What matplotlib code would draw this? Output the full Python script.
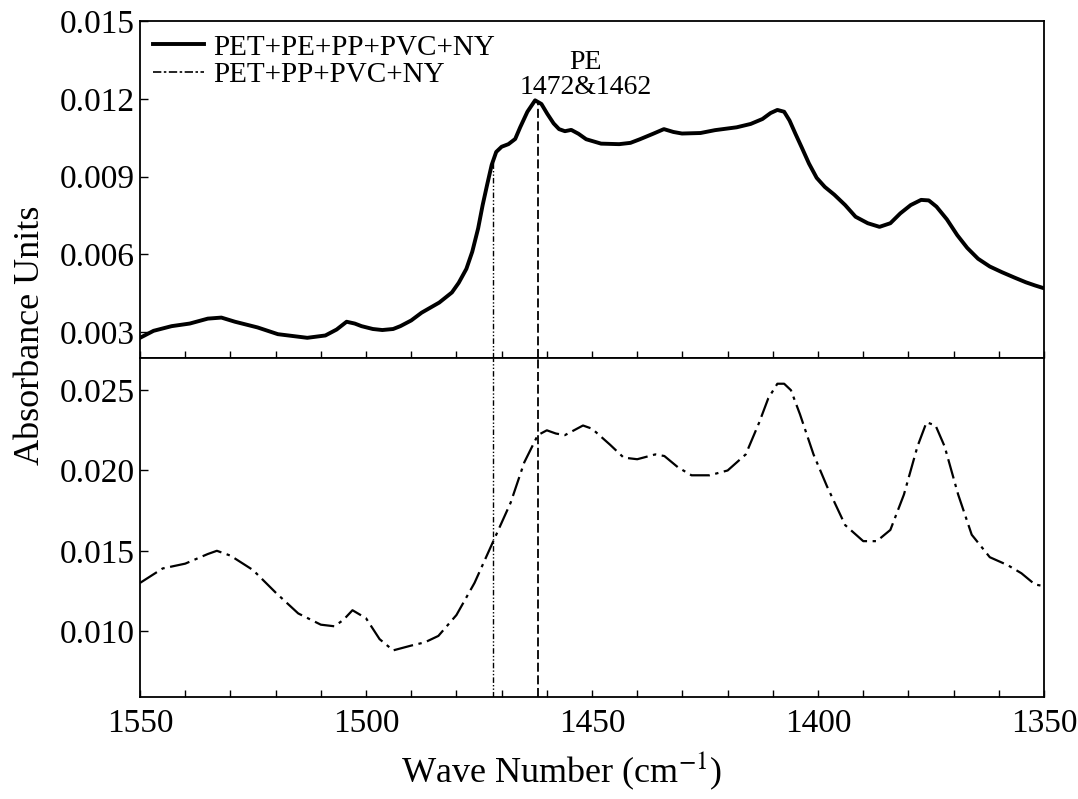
import numpy as np
import matplotlib.pyplot as plt
from matplotlib.ticker import MultipleLocator, FormatStrFormatter

plt.rcParams['font.family'] = ['Liberation Serif', 'DejaVu Serif']
plt.rcParams['mathtext.fontset'] = 'stix'

# top spectrum: PET+PE+PP+PVC+NY
wn_top = [1550, 1547, 1543, 1539, 1535, 1532, 1529, 1524, 1519.5, 1513, 1509, 1506.5,
          1504.3, 1502.5, 1501, 1498.5, 1496.4, 1494, 1492.4, 1490, 1487.7, 1483.8,
          1481, 1479.5, 1477.8, 1476.5, 1475.2, 1474.2, 1473.2, 1472.2, 1471.2, 1470,
          1468.5, 1467, 1465.9, 1464.3, 1462.6, 1461.2, 1459.9, 1458.5, 1457.3, 1456,
          1454.6, 1453, 1451.3, 1448, 1444, 1441.5, 1439.4, 1436.5, 1434.1, 1432,
          1430.1, 1426, 1422.8, 1418, 1414.9, 1412.3, 1410.5, 1409, 1407.5, 1406.3,
          1405, 1403.6, 1402, 1400.3, 1398.5, 1396.4, 1394, 1391.7, 1389, 1386.4,
          1384, 1381.8, 1379.5, 1377.2, 1375.5, 1373.8, 1371.5, 1369.2, 1367, 1364.6,
          1362, 1359.3, 1356.5, 1354, 1352, 1350]
ab_top = [0.00278, 0.00305, 0.00323, 0.00333, 0.00352, 0.00356, 0.00340, 0.00318, 0.00292,
          0.00278, 0.00287, 0.00310, 0.00340, 0.00333, 0.00323, 0.00312, 0.00308, 0.00312,
          0.00323, 0.00345, 0.00375, 0.00414, 0.00453, 0.00490, 0.00544, 0.00610, 0.00700,
          0.00790, 0.00869, 0.00945, 0.00995, 0.01015, 0.01025, 0.01045, 0.01090, 0.01150,
          0.01194, 0.01180, 0.01142, 0.01105, 0.01083, 0.01075, 0.01080, 0.01065, 0.01044,
          0.01027, 0.01025, 0.01030, 0.01044, 0.01065, 0.01083, 0.01072, 0.01066, 0.01068,
          0.01079, 0.01090, 0.01103, 0.01122, 0.01145, 0.01157, 0.01150, 0.01116, 0.01065,
          0.01012, 0.00950, 0.00895, 0.00860, 0.00830, 0.00790, 0.00745, 0.00720, 0.00706,
          0.00720, 0.00758, 0.00790, 0.00810, 0.00808, 0.00784, 0.00735, 0.00674, 0.00625,
          0.00583, 0.00553, 0.00531, 0.00510, 0.00492, 0.00480, 0.00469]

# bottom spectrum: PET+PP+PVC+NY
wn_bot = [1550, 1545, 1540, 1535, 1533, 1530, 1525, 1520, 1515, 1510, 1507, 1505, 1503,
          1500, 1497, 1494, 1490, 1487, 1484, 1480, 1476, 1472, 1468, 1465, 1462,
          1460, 1458, 1456, 1452, 1450, 1446, 1443, 1440, 1436, 1434, 1431, 1428,
          1424, 1420, 1416, 1413, 1411, 1409, 1407.5, 1406, 1404, 1401, 1398, 1394, 1390,
          1387, 1384, 1381, 1378, 1376, 1374, 1372, 1369, 1366, 1362, 1358, 1355,
          1352, 1350]
ab_bot = [0.0130, 0.0139, 0.0142, 0.0148, 0.0150, 0.0147, 0.0138, 0.0124, 0.0111, 0.0104,
          0.0103, 0.0107, 0.0113, 0.0108, 0.0095, 0.0088, 0.0091, 0.0093, 0.0097, 0.0110,
          0.0130, 0.0155, 0.0180, 0.0205, 0.0222, 0.0225, 0.0223, 0.0222, 0.0228, 0.0226,
          0.0216, 0.0208, 0.0207, 0.0210, 0.0209, 0.0202, 0.0197, 0.0197, 0.0200, 0.0210,
          0.0230, 0.0245, 0.0254, 0.0254, 0.0250, 0.0235, 0.0210, 0.0190, 0.0166, 0.0156,
          0.0156, 0.0163, 0.0185, 0.0215, 0.0230, 0.0228, 0.0215, 0.0185, 0.0160, 0.0146,
          0.0141, 0.0136, 0.0129, 0.0128]

pe_bands = [1472, 1462]

fig = plt.figure(figsize=(10.78, 7.99), dpi=100)
ax1 = fig.add_axes([0.1299, 0.5519, 0.8386, 0.4218])
ax2 = fig.add_axes([0.1299, 0.1277, 0.8386, 0.4242])

ax1.plot(wn_top, ab_top, color='black', lw=2.8, label='PET+PE+PP+PVC+NY')
ax2.plot(wn_bot, ab_bot, color='black', lw=1.6, linestyle=(0, (9, 2.5, 1.5, 2.5)))
# legend handle for the second curve
ax1.plot([], [], color='black', lw=1.2, linestyle=(0, (5, 1.5, 1.5, 1.5)), label='PET+PP+PVC+NY')

ax1.set_xlim(1550, 1350)
ax2.set_xlim(1550, 1350)
ax1.set_ylim(0.002, 0.015)
ax2.set_ylim(0.0059, 0.027)

# marker lines for the PE bands, from the bottom axis up to the top curve
styles = [dict(linestyle=(0, (4, 1.5, 1, 1.5, 1, 1.5)), lw=1.0),
          dict(linestyle=(0, (5, 2)), lw=1.3)]
for wn, st in zip(pe_bands, styles):
    ax2.axvline(wn, color='black', **st)
    ax1.vlines(wn, 0.002, np.interp(wn, wn_top[::-1], ab_top[::-1]), color='black', **st)

ax1.text(1451.5, 0.0129, 'PE\n1472&1462', ha='center', va='center', fontsize=20,
         linespacing=1.0)

for ax in (ax1, ax2):
    ax.xaxis.set_major_locator(MultipleLocator(50))
    ax.xaxis.set_minor_locator(MultipleLocator(10))
    ax.tick_params(axis='x', which='both', direction='in', length=5, width=1,
                   top=False, labelsize=24, pad=8)
    ax.tick_params(axis='y', which='both', direction='in', length=6, width=1,
                   right=False, labelsize=24, pad=4)
    for s in ax.spines.values():
        s.set_linewidth(1.3)

ax1.yaxis.set_major_locator(MultipleLocator(0.003))
ax1.yaxis.set_major_formatter(FormatStrFormatter('%.3f'))
ax2.yaxis.set_major_locator(MultipleLocator(0.005))
ax2.yaxis.set_major_formatter(FormatStrFormatter('%.3f'))
ax1.tick_params(axis='x', labelbottom=False)

ax1.legend(loc='upper left', frameon=False, fontsize=21, handlelength=1.75,
           borderaxespad=0.05, labelspacing=0.05, handletextpad=0.3,
           bbox_to_anchor=(0.0, 1.0))

ax2.set_xlabel('Wave Number (cm$^{-1}$)', fontsize=26, labelpad=10)
ax2.xaxis.set_label_coords(0.466, -0.155)
fig.text(0.028, 0.58, 'Absorbance Units', rotation=90, ha='center', va='center',
         fontsize=26)

fig.savefig('out.png', dpi=100)
